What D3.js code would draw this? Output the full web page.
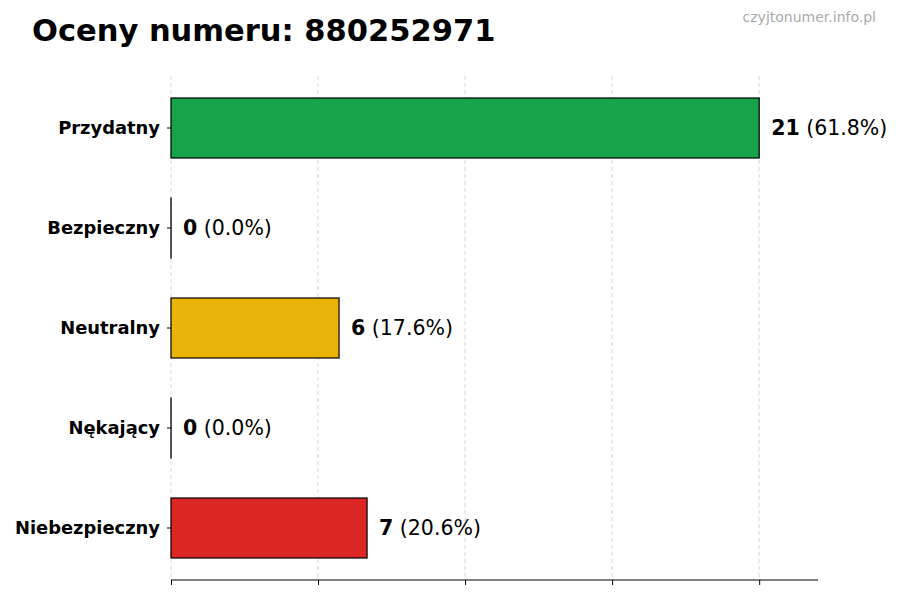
<!DOCTYPE html>
<html>
<head>
<meta charset="utf-8">
<script src="https://cdn.jsdelivr.net/npm/d3@7"></script>
<style>
  body { margin: 0; background: #fff; }
  text { font-family: "DejaVu Sans", sans-serif; }
</style>
</head>
<body>
<script>
    var categories = ["Przydatny", "Bezpieczny", "Neutralny", "Nękający", "Niebezpieczny"];
    var counts = [21, 0, 6, 0, 7];
    var colors = ["#16a34a", "#9ca3af", "#eab308", "#f97316", "#dc2626"];
    var tickValues = [0, 5.25, 10.5, 15.75, 21];

    var total = d3.sum(counts);

    var svg = d3.select("body").append("svg")
        .attr("width", 900)
        .attr("height", 600);

    var x = d3.scaleLinear()
        .domain([0, d3.max(counts) * 1.1])
        .range([171, 818]);

    var y = d3.scaleBand()
        .domain(categories)
        .range([78, 578])
        .paddingInner(0.4)
        .paddingOuter(0.2);

    // title + watermark
    svg.append("text")
        .attr("x", 32)
        .attr("y", 41)
        .attr("font-size", 30.5)
        .attr("font-weight", "bold")
        .text("Oceny numeru: 880252971");

    svg.append("text")
        .attr("x", 876)
        .attr("y", 22)
        .attr("text-anchor", "end")
        .attr("font-size", 14)
        .attr("fill", "#aaaaaa")
        .text("czyjtonumer.info.pl");

    // dashed grid
    svg.append("g").selectAll("line")
        .data(tickValues).enter().append("line")
        .attr("x1", function(d){return x(d);})
        .attr("x2", function(d){return x(d);})
        .attr("y1", 76)
        .attr("y2", 580)
        .attr("stroke", "#cccccc")
        .attr("stroke-width", 0.8)
        .attr("stroke-dasharray", "4,3");

    // bars (zero-width bars still show their edge)
    svg.append("g").selectAll("rect")
        .data(categories).enter().append("rect")
        .attr("x", x(0))
        .attr("y", function(d){return y(d);})
        .attr("width", function(d,i){return Math.max(x(counts[i]) - x(0), 0.1);})
        .attr("height", y.bandwidth())
        .attr("fill", function(d,i){return colors[i];})
        .attr("stroke", "#000")
        .attr("stroke-width", 1.2);

    // value labels
    var labels = svg.append("g").selectAll("text")
        .data(categories).enter().append("text")
        .attr("x", function(d,i){return x(counts[i]) + 12;})
        .attr("y", function(d){return y(d) + y.bandwidth() / 2;})
        .attr("dy", "0.35em")
        .attr("font-size", 20.5);
    labels.append("tspan")
        .attr("font-weight", "bold")
        .text(function(d,i){return counts[i];});
    labels.append("tspan")
        .text(function(d,i){return " (" + (counts[i] / total * 100).toFixed(1) + "%)";});

    // y axis: labels + ticks, no spine
    var yAxis = svg.append("g")
        .attr("transform", "translate(" + x(0) + ",0)")
        .call(d3.axisLeft(y).tickSize(4).tickPadding(7));
    yAxis.select(".domain").remove();
    yAxis.selectAll("text")
        .attr("font-size", 17.9)
        .attr("font-weight", "bold")
        .attr("fill", "#000")
        .style("font-family", "DejaVu Sans, sans-serif");

    // x axis: line + ticks, no labels
    var xAxis = svg.append("g")
        .attr("transform", "translate(0,580)")
        .call(d3.axisBottom(x).tickValues(tickValues).tickSize(5).tickFormat(""));
    xAxis.select(".domain")
        .attr("d", "M" + x.range()[0] + ",0H" + x.range()[1]);
</script>
</body>
</html>
